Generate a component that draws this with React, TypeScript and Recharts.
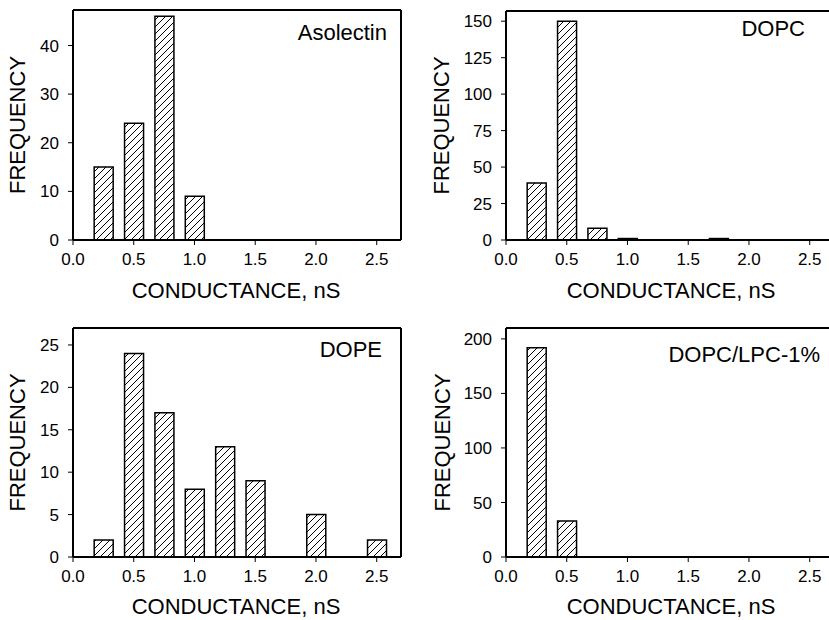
import React from 'react'
import { BarChart, Bar, XAxis, YAxis, ReferenceLine } from 'recharts'

const X_TICKS = [0, 0.5, 1.0, 1.5, 2.0, 2.5]
const X_MAX = 2.7

const asolectinBins = [0.25, 0.5, 0.75, 1.0]
const asolectinCounts = [15, 24, 46, 9]
const asolectinTicks = [0, 10, 20, 30, 40]

const dopcBins = [0.25, 0.5, 0.75, 1.0, 1.75]
const dopcCounts = [39, 150, 8, 1, 1]
const dopcTicks = [0, 25, 50, 75, 100, 125, 150]

const dopeBins = [0.25, 0.5, 0.75, 1.0, 1.25, 1.5, 2.0, 2.5]
const dopeCounts = [2, 24, 17, 8, 13, 9, 5, 2]
const dopeTicks = [0, 5, 10, 15, 20, 25]

const lpcBins = [0.25, 0.5]
const lpcCounts = [192, 33]
const lpcTicks = [0, 50, 100, 150, 200]

const FONT = '"Liberation Sans", Arial, sans-serif'

interface PanelProps {
  id: string
  name: string
  bins: number[]
  counts: number[]
  yTicks: number[]
  yMax: number
  left: number
  top: number
  width: number
  height: number
  yAxisWidth: number
  marginTop: number
  marginRight: number
  xAxisHeight: number
  nameX: number
  nameY: number
  yTitleX: number
  xTitleX: number
  xTitleY: number
}

function Panel(p: PanelProps) {
  const data = p.bins.map((x, i) => ({ x, count: p.counts[i] }))
  const plotTop = p.marginTop
  const plotBottom = p.height - p.xAxisHeight
  const yMid = (plotTop + plotBottom) / 2
  const tick = { fill: '#000', fontSize: 17, fontFamily: FONT }

  return (
    <div style={{ position: 'absolute', left: p.left, top: p.top }}>
      <BarChart
        width={p.width}
        height={p.height}
        data={data}
        margin={{ top: p.marginTop, right: p.marginRight, bottom: 0, left: 0 }}
        barSize={19}
      >
        <defs>
          <pattern id={p.id} patternUnits="userSpaceOnUse" width="7" height="7">
            <path d="M-1,1 l2,-2 M0,7 l7,-7 M6,8 l2,-2" stroke="#000" strokeWidth="1" />
          </pattern>
        </defs>
        <XAxis
          type="number"
          dataKey="x"
          domain={[0, X_MAX]}
          ticks={X_TICKS}
          tickFormatter={(v: number) => v.toFixed(1)}
          height={p.xAxisHeight}
          tick={tick}
          tickSize={5}
          tickMargin={8}
          axisLine={{ stroke: '#000', strokeWidth: 2 }}
          tickLine={{ stroke: '#000', strokeWidth: 1 }}
          interval={0}
        />
        <YAxis
          type="number"
          domain={[0, p.yMax]}
          ticks={p.yTicks}
          width={p.yAxisWidth}
          tick={tick}
          tickSize={5}
          tickMargin={9}
          axisLine={{ stroke: '#000', strokeWidth: 2 }}
          tickLine={{ stroke: '#000', strokeWidth: 1 }}
          interval={0}
        />
        <ReferenceLine y={p.yMax} stroke="#000" strokeWidth={2} />
        <ReferenceLine x={X_MAX} stroke="#000" strokeWidth={2} />
        <Bar
          dataKey="count"
          fill={`url(#${p.id})`}
          stroke="#000"
          strokeWidth={1.5}
          isAnimationActive={false}
        />
        <text x={p.nameX} y={p.nameY} textAnchor="end" fontSize={22} fontFamily={FONT} fill="#000">
          {p.name}
        </text>
        <text
          x={0}
          y={0}
          transform={`translate(${p.yTitleX},${yMid}) rotate(-90)`}
          textAnchor="middle"
          fontSize={22}
          fontFamily={FONT}
          fill="#000"
        >
          FREQUENCY
        </text>
        <text x={p.xTitleX} y={p.xTitleY} textAnchor="middle" fontSize={22} fontFamily={FONT} fill="#000">
          CONDUCTANCE, nS
        </text>
      </BarChart>
    </div>
  )
}

export default function App() {
  return (
    <div
      style={{
        position: 'fixed',
        left: 0,
        top: 0,
        width: 829,
        height: 620,
        overflow: 'hidden',
        background: '#fff',
      }}
    >
      <Panel
        id="hatchA"
        name="Asolectin"
        bins={asolectinBins}
        counts={asolectinCounts}
        yTicks={asolectinTicks}
        yMax={47.3}
        left={0}
        top={0}
        width={420}
        height={306}
        yAxisWidth={73}
        marginTop={10}
        marginRight={19}
        xAxisHeight={66}
        nameX={387}
        nameY={40}
        yTitleX={25}
        xTitleX={236}
        xTitleY={298}
      />
      <Panel
        id="hatchB"
        name="DOPC"
        bins={dopcBins}
        counts={dopcCounts}
        yTicks={dopcTicks}
        yMax={157}
        left={410}
        top={0}
        width={424}
        height={306}
        yAxisWidth={96}
        marginTop={11}
        marginRight={0}
        xAxisHeight={66}
        nameX={395}
        nameY={36}
        yTitleX={39}
        xTitleX={261}
        xTitleY={298}
      />
      <Panel
        id="hatchC"
        name="DOPE"
        bins={dopeBins}
        counts={dopeCounts}
        yTicks={dopeTicks}
        yMax={27}
        left={0}
        top={300}
        width={420}
        height={320}
        yAxisWidth={73}
        marginTop={28}
        marginRight={19}
        xAxisHeight={63}
        nameX={382}
        nameY={57}
        yTitleX={25}
        xTitleX={236}
        xTitleY={314}
      />
      <Panel
        id="hatchD"
        name="DOPC/LPC-1%"
        bins={lpcBins}
        counts={lpcCounts}
        yTicks={lpcTicks}
        yMax={210}
        left={410}
        top={300}
        width={424}
        height={320}
        yAxisWidth={96}
        marginTop={28}
        marginRight={0}
        xAxisHeight={63}
        nameX={410}
        nameY={62}
        yTitleX={40}
        xTitleX={261}
        xTitleY={314}
      />
    </div>
  )
}
